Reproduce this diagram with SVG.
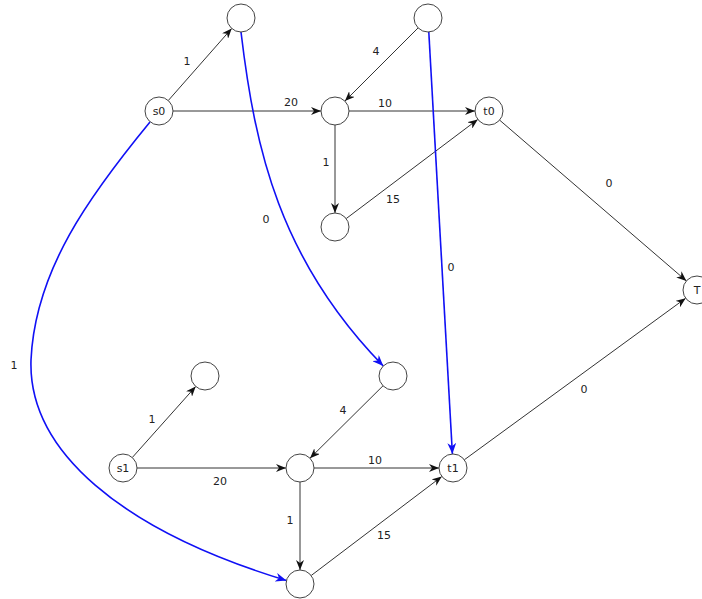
<svg xmlns="http://www.w3.org/2000/svg" width="702" height="599" viewBox="0 0 702 599">
<style>
.n circle{fill:#fff;stroke:#444;stroke-width:1}
text{font-family:"DejaVu Sans","Liberation Sans",sans-serif;font-size:11px;fill:#222;text-anchor:middle;dominant-baseline:central}
.e{stroke:#333;stroke-width:1;fill:none;marker-end:url(#ak)}
.b{stroke:#1010f5;stroke-width:1.6;fill:none;marker-end:url(#ab)}
</style>
<defs>
<marker id="ak" viewBox="0 0 10 8" refX="10" refY="4" markerWidth="10" markerHeight="8" markerUnits="userSpaceOnUse" orient="auto"><path d="M0,0 L10,4 L0,8 L3,4 z" fill="#111"/></marker>
<marker id="ab" viewBox="0 0 10 8" refX="10" refY="4" markerWidth="11" markerHeight="9" markerUnits="userSpaceOnUse" orient="auto"><path d="M0,0 L10,4 L0,8 L3,4 z" fill="#1010f5"/></marker>
</defs>
<g id="connectors">
<line class="e" x1="168.3" y1="100.5" x2="231.7" y2="28.5"/>
<line class="e" x1="173" y1="111" x2="321" y2="111"/>
<line class="e" x1="418.1" y1="27.9" x2="344.9" y2="101.1"/>
<line class="e" x1="349" y1="111" x2="475" y2="111"/>
<line class="e" x1="335" y1="125" x2="335" y2="213"/>
<line class="e" x1="346.2" y1="218.6" x2="477.8" y2="119.4"/>
<line class="e" x1="499.6" y1="120.1" x2="686.4" y2="280.9"/>
<line class="e" x1="464.3" y1="459.8" x2="685.7" y2="298.2"/>
<line class="e" x1="383" y1="385.8" x2="310" y2="458.2"/>
<line class="e" x1="132.3" y1="457.5" x2="195.7" y2="386.5"/>
<line class="e" x1="137" y1="468" x2="286" y2="468"/>
<line class="e" x1="314" y1="468" x2="439" y2="468"/>
<line class="e" x1="300" y1="482" x2="300" y2="570"/>
<line class="e" x1="311.2" y1="575.5" x2="441.8" y2="476.5"/>
<path class="b" d="M241,32 C255,150 280,260 383.3,366"/>
<line class="b" x1="428.8" y1="32" x2="452.4" y2="454"/>
<path class="b" d="M150,122 C90,195 35,270 31,360 C28,450 120,530 286.4,580.5"/>
<text x="187" y="61">1</text>
<text x="291" y="102">20</text>
<text x="376" y="51">4</text>
<text x="385" y="103">10</text>
<text x="326" y="162">1</text>
<text x="393" y="199">15</text>
<text x="609" y="183">0</text>
<text x="266" y="219">0</text>
<text x="451" y="267">0</text>
<text x="14" y="365">1</text>
<text x="584" y="389">0</text>
<text x="343" y="410">4</text>
<text x="152" y="419">1</text>
<text x="220" y="481">20</text>
<text x="375" y="460">10</text>
<text x="290" y="520">1</text>
<text x="384" y="535">15</text>
</g>
<g id="nA" class="n"><circle cx="241" cy="18" r="14"/></g>
<g id="nB" class="n"><circle cx="428" cy="18" r="14"/></g>
<g id="s0" class="n"><circle cx="159" cy="111" r="14"/><text x="159" y="111">s0</text></g>
<g id="nC" class="n"><circle cx="335" cy="111" r="14"/></g>
<g id="t0" class="n"><circle cx="489" cy="111" r="14"/><text x="489" y="111">t0</text></g>
<g id="nD" class="n"><circle cx="335" cy="227" r="14"/></g>
<g id="T" class="n"><circle cx="697" cy="290" r="14"/><text x="697" y="290">T</text></g>
<g id="nE" class="n"><circle cx="205" cy="376" r="14"/></g>
<g id="nF" class="n"><circle cx="393" cy="376" r="14"/></g>
<g id="s1" class="n"><circle cx="123" cy="468" r="14"/><text x="123" y="468">s1</text></g>
<g id="nG" class="n"><circle cx="300" cy="468" r="14"/></g>
<g id="t1" class="n"><circle cx="453" cy="468" r="14"/><text x="453" y="468">t1</text></g>
<g id="nH" class="n"><circle cx="300" cy="584" r="14"/></g>
</svg>
